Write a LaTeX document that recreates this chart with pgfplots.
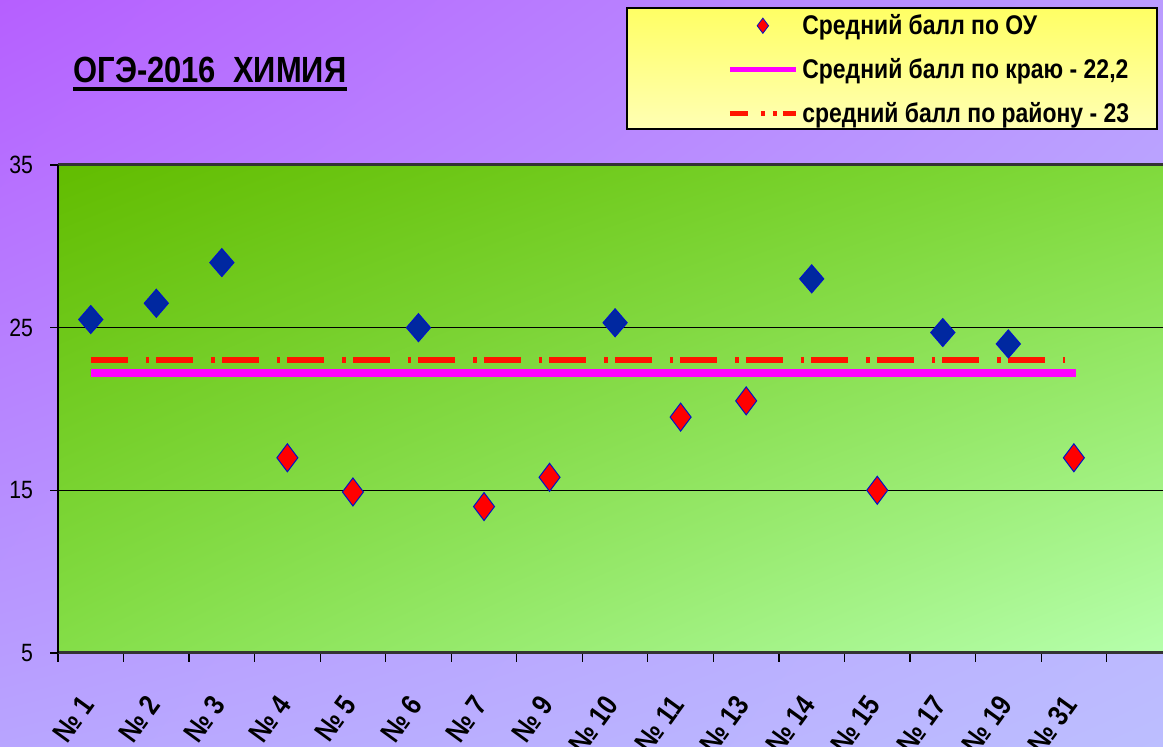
\documentclass[border=0pt]{standalone}
\usepackage{fontspec}
\setmainfont{Liberation Sans}[FakeStretch=0.85]
\usepackage{pgfplots}
\pgfplotsset{compat=1.18}
\usetikzlibrary{shadings}

\definecolor{bgUL}{RGB}{182,95,255}
\definecolor{bgUR}{RGB}{186,155,255}
\definecolor{bgLL}{RGB}{184,165,255}
\definecolor{bgLR}{RGB}{188,190,255}
\definecolor{grUL}{RGB}{98,188,0}
\definecolor{grUR}{RGB}{128,218,60}
\definecolor{grLL}{RGB}{132,222,72}
\definecolor{grLR}{RGB}{182,255,172}
\definecolor{legTop}{RGB}{255,255,100}
\definecolor{legBot}{RGB}{255,255,180}
\definecolor{ptBlue}{RGB}{0,40,160}
\definecolor{ptEdge}{RGB}{0,20,200}
\definecolor{distRed}{RGB}{255,20,0}
\definecolor{krai}{RGB}{255,0,255}

\begin{document}
\begin{tikzpicture}
\useasboundingbox (0pt,0pt) rectangle (581.5pt,373.5pt);
\shade[shading=bilinear interpolation, upper left=bgUL, upper right=bgUR, lower left=bgLL, lower right=bgLR]
  (0pt,0pt) rectangle (581.5pt,373.5pt);
% legend box
\shade[top color=legTop, bottom color=legBot] (313.5pt,309pt) rectangle (578.5pt,369.5pt);
\draw[black, line width=0.9pt] (313.5pt,309pt) rectangle (578.5pt,369.5pt);
% title
\node[anchor=base west, inner sep=0pt, font=\fontsize{18.2}{20}\selectfont\bfseries] (t) at (36.5pt,332pt) {ОГЭ-2016\ \ ХИМИЯ};
\draw[line width=2pt] ([yshift=-3pt]t.base west) -- ([yshift=-3pt]t.base east);

\begin{axis}[
  at={(29pt,47pt)}, anchor=south west,
  width=552.5pt, height=244pt, scale only axis,
  xmin=-0.5, xmax=16.36, ymin=5, ymax=35,
  axis background/.style={shade, shading=bilinear interpolation, upper left=grUL, upper right=grUR, lower left=grLL, lower right=grLR},
  axis x line*=box, axis y line*=left,
  x axis line style={line width=1.5pt, black!80},
  y axis line style={line width=1pt, black},
  tick align=outside, xtick pos=bottom, ytick pos=left,
  ytick={5,15,25,35},
  xtick={0,...,15},
  xticklabels={№ 1,№ 2,№ 3,№ 4,№ 5,№ 6,№ 7,№ 9,№ 10,№ 11,№ 13,№ 14,№ 15,№ 17,№ 19,№ 31},
  minor xtick={-0.5,0.5,...,16.5},
  major tick length=4pt, minor tick length=4.5pt,
  major x tick style={draw=none},
  minor x tick style={black, line width=0.6pt},
  ytick style={black, line width=0.6pt},
  ymajorgrids, grid style={black, line width=0.7pt},
  /pgf/number format/assume math mode=true,
  yticklabel style={font=\fontsize{12.5}{14}\selectfont, xshift=-5pt},
  xticklabel style={font=\fontsize{14.5}{16}\selectfont\bfseries, yshift=-19pt, xshift=-1.5pt, rotate=54, anchor=east, inner sep=0pt},
  legend style={at={(0.6054,1.318)}, anchor=north west, draw=none, fill=none,
    font=\fontsize{13.5}{15}\selectfont\bfseries, row sep=6.5pt, inner sep=0pt},
  legend cell align=left,
]
% points above the regional average (blue)
\addplot[only marks, mark=diamond*, mark size=7pt,
  mark options={fill=ptBlue, draw=ptEdge, line width=0.5pt, xscale=1.15}, forget plot]
  coordinates {(0,25.5)(1,26.5)(2,29.0)(5,25.0)(8,25.3)(11,28.0)(13,24.7)(14,24.0)};
% points below (red)
\addplot[only marks, mark=diamond*, mark size=7pt,
  mark options={fill=red, draw=ptEdge, line width=0.5pt},
  legend image code/.code={\draw[mark size=3.8pt] plot[only marks, mark=diamond*, mark options={fill=red, draw=ptEdge, line width=0.4pt}] coordinates {(16.5pt,0pt)};}]
  coordinates {(3,17.0)(4,14.9)(6,14.0)(7,15.8)(9,19.5)(10,20.5)(12,15.0)(15,17.0)};
\addlegendentry{Средний балл по ОУ}
% krai average
\addplot[krai, line width=4.25pt,
  legend image code/.code={\draw[krai, line width=2.5pt] (0pt,0pt) -- (33pt,0pt);}]
  coordinates {(0,22.2)(15.04,22.2)};
\addlegendentry{Средний балл по краю - 22,2}
% district average
\addplot[distRed, line width=3pt, dash pattern=on 18.5pt off 9pt on 1.75pt off 3.5pt,
  legend image code/.code={\draw[distRed, line width=2.5pt, dash pattern=on 9pt off 6.5pt on 2pt off 4pt on 2pt off 3pt on 6.5pt off 10pt] (0pt,0pt) -- (33pt,0pt);}]
  coordinates {(0,23)(14.86,23)};
\addlegendentry{средний балл по району - 23}
\end{axis}
\end{tikzpicture}
\end{document}
